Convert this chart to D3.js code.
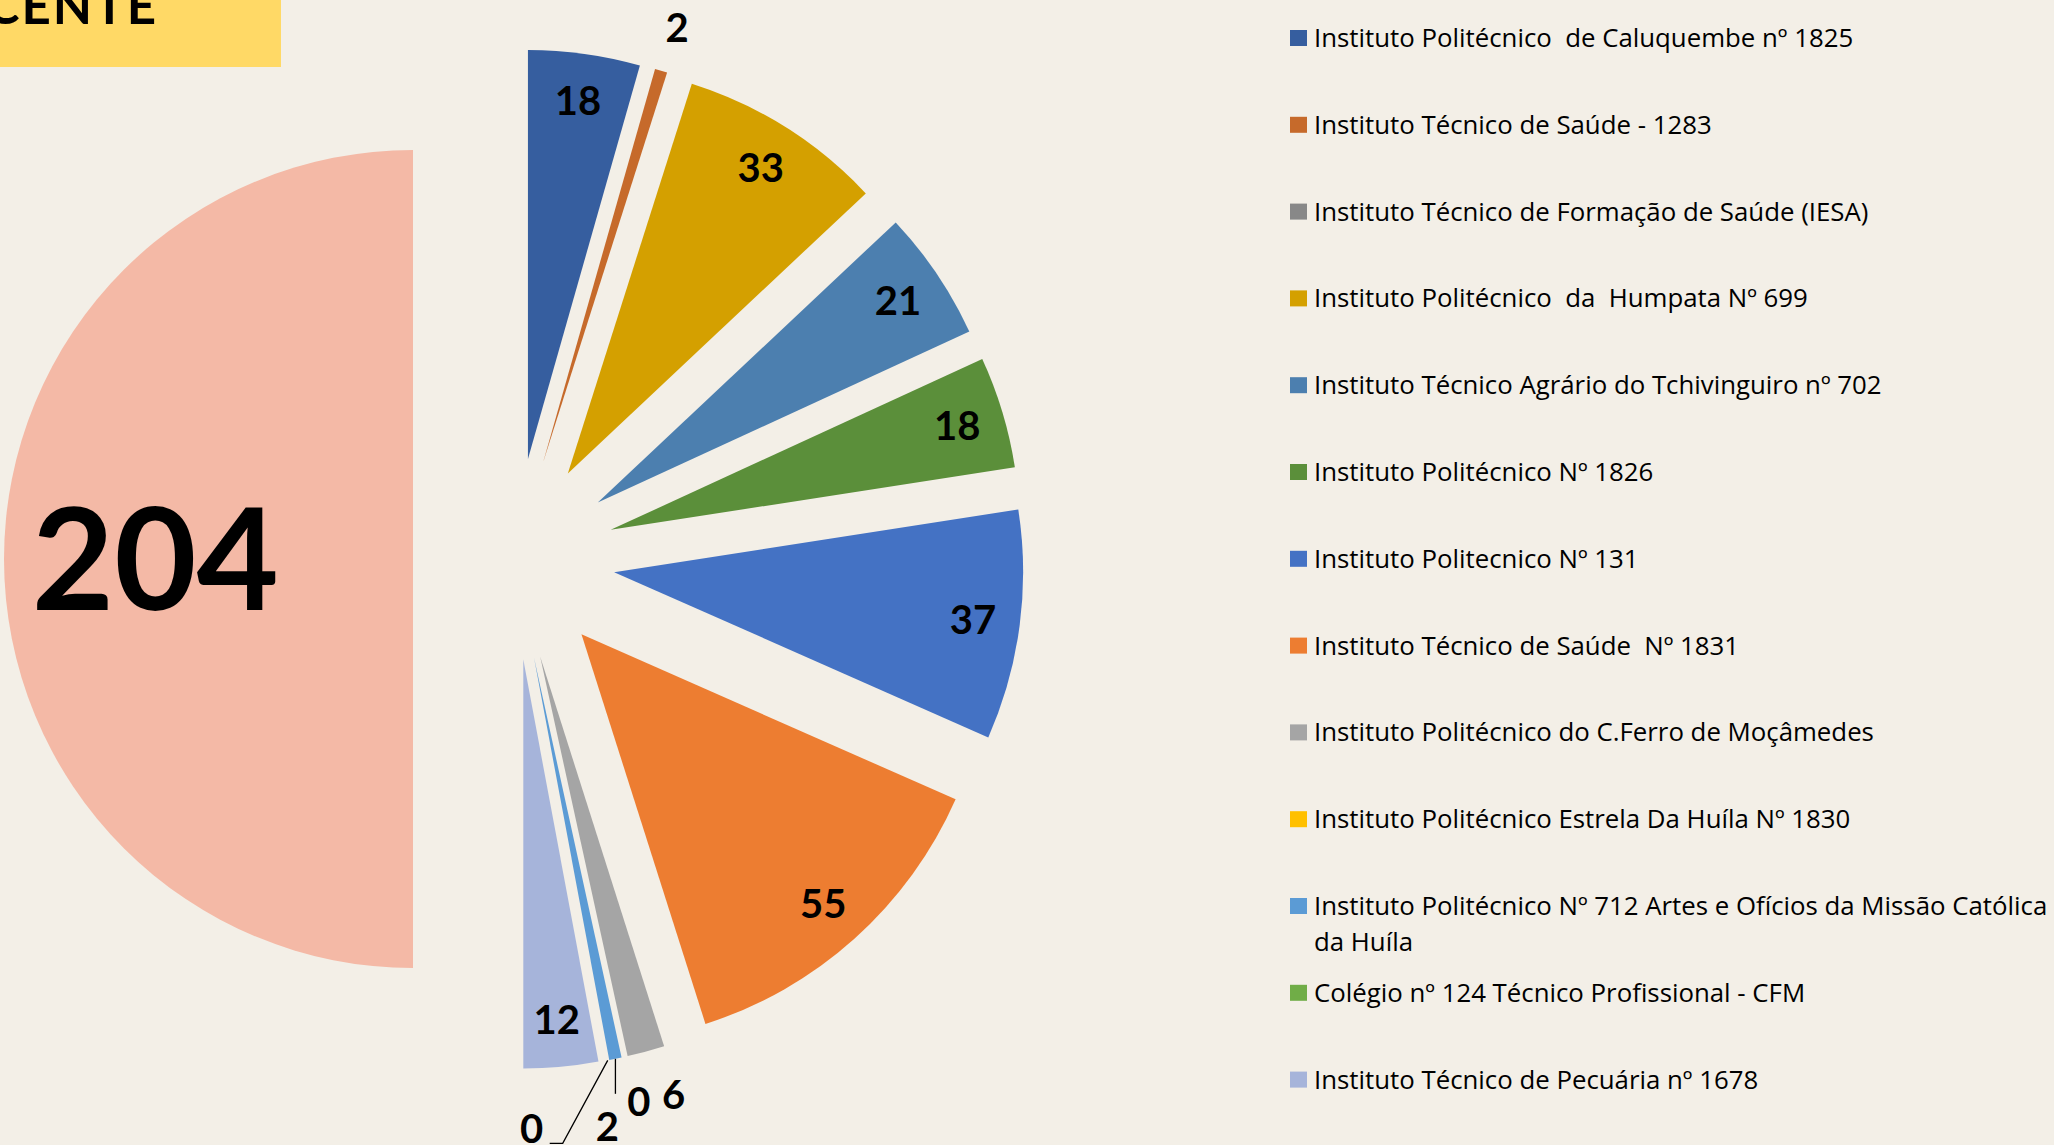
<!DOCTYPE html>
<html>
<head>
<meta charset="utf-8">
<script src="https://cdn.jsdelivr.net/npm/d3@7"></script>
<style>
  body { margin: 0; background: #f3efe7; overflow: hidden; }
  text { font-family: Lato, "Open Sans", sans-serif; }
  .legend text { font-family: "Open Sans", Lato, sans-serif; white-space: pre; }
</style>
</head>
<body>
<div class="canvas"></div>
<script>
// chart data
const categories = [
  'Instituto Politécnico  de Caluquembe nº 1825',
  'Instituto Técnico de Saúde - 1283',
  'Instituto Técnico de Formação de Saúde (IESA)',
  'Instituto Politécnico  da  Humpata Nº 699',
  'Instituto Técnico Agrário do Tchivinguiro nº 702',
  'Instituto Politécnico Nº 1826',
  'Instituto Politecnico Nº 131',
  'Instituto Técnico de Saúde  Nº 1831',
  'Instituto Politécnico do C.Ferro de Moçâmedes',
  'Instituto Politécnico Estrela Da Huíla Nº 1830',
  'Instituto Politécnico Nº 712 Artes e Ofícios da Missão Católica da Huíla',
  'Colégio nº 124 Técnico Profissional - CFM',
  'Instituto Técnico de Pecuária nº 1678'
];
const values = [18, 2, 0, 33, 21, 18, 37, 55, 6, 0, 2, 0, 12];
const colors = ['#365e9f', '#c66a2b', '#888888', '#d4a000', '#4c7faf', '#5b8f3a',
  '#4472c4', '#ed7d31', '#a5a5a5', '#ffc000', '#5b9bd5', '#70ad47', '#a6b4da'];
const totalName = 'Total';
const totalValue = 204;
const totalColor = '#f4b9a6';
const titleText = 'CENTE';

// how each data label is placed
const labelModes = ['in', 'out', 'none', 'in', 'in', 'in', 'in', 'in', 'out', 'out', 'leaderDown', 'leaderLeft', 'in'];
// small sideways nudges for the crowded outside labels
const labelNudge = [0, 3, 0, 0, 0, 0, 0, 0, 16, 6, 0, 0, 0];

const width = 2054;
const height = 1145;

const svg = d3.select('.canvas')
  .append('svg')
    .attr('width', width)
    .attr('height', height);

// title box (cut at the top of the slide)
svg.append('rect')
  .attr('x', 0).attr('y', 0)
  .attr('width', 281).attr('height', 67)
  .attr('fill', '#ffd966');
svg.append('text')
  .attr('x', 158).attr('y', 24)
  .attr('text-anchor', 'end')
  .attr('font-size', 51)
  .attr('font-weight', 'bold')
  .attr('letter-spacing', 2)
  .text(titleText);

// pie geometry
const cx = 514, cy = 559, radius = 409, explode = 101;

const slices = categories.map((name, i) => ({name, value: values[i], color: colors[i], mode: labelModes[i], nudge: labelNudge[i]}));
slices.push({name: totalName, value: totalValue, color: totalColor, mode: 'total', nudge: 0});

const pie = d3.pie().sort(null).value(d => d.value);
const arc = d3.arc().innerRadius(0).outerRadius(radius);
const arcs = pie(slices);

const mid = d => (d.startAngle + d.endAngle) / 2;
const along = (d, dist) => [Math.sin(mid(d)) * dist, -Math.cos(mid(d)) * dist];
const add = (a, b) => [a[0] + b[0], a[1] + b[1]];

const graph = svg.append('g')
  .attr('transform', `translate(${cx}, ${cy})`);

graph.selectAll('path')
  .data(arcs.filter(d => d.value > 0))
  .enter()
  .append('path')
    .attr('d', arc)
    .attr('fill', d => d.data.color)
    .attr('transform', d => `translate(${along(d, explode)})`);

// data labels
const labels = graph.append('g');
arcs.forEach(d => {
  const apex = along(d, explode);
  const mode = d.data.mode;
  if (mode === 'none') return;
  let pos;
  let size = 40;
  if (mode === 'in') {
    pos = add(apex, along(d, radius * 0.885));
  } else if (mode === 'out') {
    pos = add(apex, along(d, radius * 1.11));
    pos[0] += d.data.nudge;
  } else if (mode === 'total') {
    pos = add(apex, along(d, radius * 0.63));
    size = 142;
  } else if (mode === 'leaderDown') {
    const o = add(apex, along(d, radius));
    labels.append('polyline')
      .attr('points', [o, add(o, [0, 35])].join(' '))
      .attr('fill', 'none').attr('stroke', '#000').attr('stroke-width', 1.3);
    pos = add(o, [-8, 68]);
  } else if (mode === 'leaderLeft') {
    const o = add(apex, along(d, radius));
    labels.append('polyline')
      .attr('points', [o, add(o, [-45, 83]), add(o, [-58, 83])].join(' '))
      .attr('fill', 'none').attr('stroke', '#000').attr('stroke-width', 1.3);
    pos = add(o, [-76, 68]);
  }
  labels.append('text')
    .attr('x', pos[0])
    .attr('y', pos[1])
    .attr('dy', '0.36em')
    .attr('text-anchor', 'middle')
    .attr('font-size', size)
    .attr('font-weight', 'bold')
    .attr('fill', '#000')
    .text(d.data.value);
});

// legend
const legendX = 1290;
const firstBaseline = 47;
const rowGap = 86.8;
const maxTextWidth = width - legendX - 24;

const legend = svg.append('g')
  .attr('class', 'legend')
  .attr('transform', `translate(${legendX}, 0)`);

const rows = legend.selectAll('g')
  .data(slices.slice(0, categories.length))
  .enter()
  .append('g')
    .attr('transform', (d, i) => `translate(0, ${firstBaseline + i * rowGap})`);

rows.append('rect')
  .attr('x', 0).attr('y', -17)
  .attr('width', 17).attr('height', 16)
  .attr('fill', d => d.color);

rows.append('text')
  .attr('x', 24)
  .attr('font-size', 25.8)
  .attr('fill', '#000')
  .each(function(d) {
    const text = d3.select(this);
    const words = d.name.split(' ');
    let line = [];
    let tspan = text.append('tspan').attr('x', 24).attr('dy', 0);
    words.forEach(w => {
      line.push(w);
      tspan.text(line.join(' '));
      if (tspan.node().getComputedTextLength() > maxTextWidth && line.length > 1) {
        line.pop();
        tspan.text(line.join(' '));
        line = [w];
        tspan = text.append('tspan').attr('x', 24).attr('dy', 36).text(w);
      }
    });
  });
</script>
</body>
</html>
